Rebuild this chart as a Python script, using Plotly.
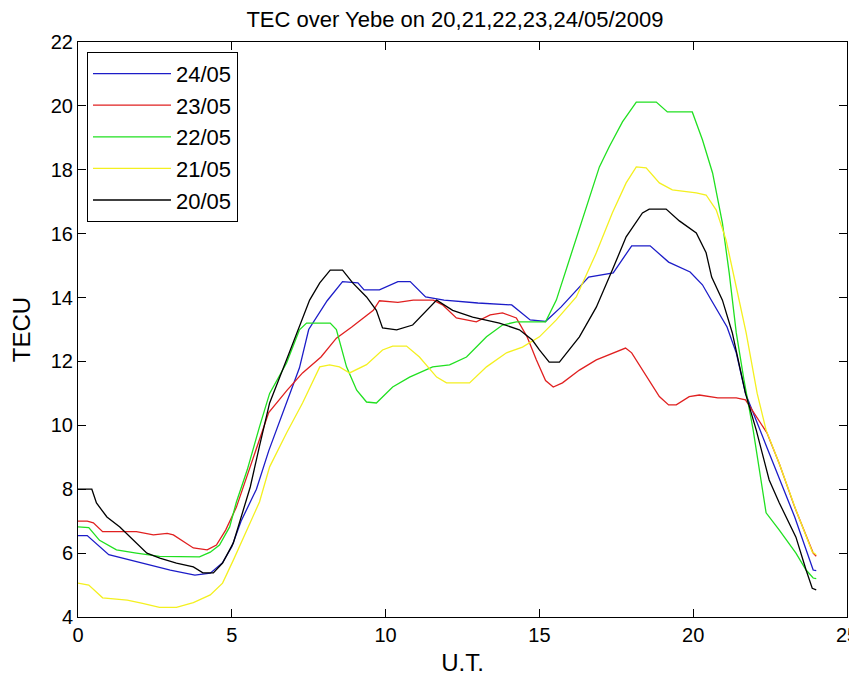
import plotly.graph_objects as go

# ---- data ----
labels = ["24/05", "23/05", "22/05", "21/05", "20/05"]
colors = ["#1c1cc8", "#e02020", "#20e020", "#f4f020", "#000000"]

x_24 = [0, 0.3, 1, 2, 3, 3.8, 4.3, 4.7, 5, 5.3, 5.8, 6.2, 6.8, 7.2, 7.5, 8.1, 8.6, 9.1, 9.3, 9.8,
        10.4, 10.8, 11.3, 11.9, 13.0, 13.7, 14.1, 14.7, 15.2, 15.7, 16.4, 16.6, 17.4, 17.7, 18.0,
        18.6, 19.2, 19.9, 20.3, 20.6, 21.1, 21.4, 21.7, 22.4, 22.9, 23.3, 23.9, 24]
y_24 = [6.55, 6.55, 5.95, 5.7, 5.47, 5.31, 5.37, 5.7, 6.2, 7.0, 8.0, 9.2, 10.8, 11.8, 13.0, 13.9,
        14.5, 14.46, 14.24, 14.24, 14.5, 14.5, 14.02, 13.92, 13.83, 13.8, 13.77, 13.3, 13.25, 13.7,
        14.45, 14.64, 14.77, 15.18, 15.62, 15.62, 15.11, 14.8, 14.4, 13.9, 13.08, 12.27, 11.0, 9.3,
        8.07, 7.13, 5.47, 5.45]

x_23 = [0, 0.3, 0.5, 0.8, 1.9, 2.45, 2.9, 3.1, 3.75, 4.2, 4.5, 4.8, 5.15, 5.6, 5.9, 6.2, 6.8, 7.3,
        7.9, 8.4, 8.9, 9.6, 9.8, 10.4, 10.9, 11.55, 11.85, 12.3, 12.95, 13.4, 13.8, 14.25, 14.6,
        14.9, 15.2, 15.45, 15.75, 16.3, 16.85, 17.4, 17.8, 18.0, 18.5, 18.9, 19.2, 19.45, 19.87,
        20.2, 20.8, 21.4, 21.7, 22.4, 22.8, 23.3, 23.9, 24]
y_23 = [7.0, 7.0, 6.95, 6.67, 6.67, 6.57, 6.62, 6.57, 6.16, 6.1, 6.25, 6.72, 7.44, 8.7, 9.5, 10.4,
        11.1, 11.64, 12.14, 12.73, 13.08, 13.6, 13.9, 13.85, 13.92, 13.92, 13.77, 13.36, 13.24,
        13.46, 13.52, 13.36, 12.77, 12.05, 11.4, 11.2, 11.33, 11.73, 12.05, 12.27, 12.42, 12.27,
        11.51, 10.9, 10.64, 10.64, 10.9, 10.95, 10.86, 10.86, 10.8, 9.76, 8.8, 7.44, 6.0, 5.9]

x_22 = [0, 0.35, 0.7, 1.25, 1.9, 2.65, 3.95, 4.3, 4.6, 4.93, 5.15, 5.5, 5.9, 6.23, 6.78, 7.2, 7.43,
        8.2, 8.4, 8.73, 9.06, 9.38, 9.7, 10.23, 10.78, 11.53, 12.08, 12.63, 13.28, 13.8, 14.25,
        15.2, 15.55, 15.97, 16.3, 16.62, 16.95, 17.27, 17.7, 18.15, 18.8, 19.16, 19.65, 19.97,
        20.3, 20.63, 20.95, 21.17, 21.4, 21.65, 21.95, 22.15, 22.37, 22.8, 23.34, 23.67, 23.9, 24]
y_22 = [6.82, 6.8, 6.4, 6.1, 6.0, 5.9, 5.88, 6.03, 6.25, 6.82, 7.6, 8.6, 9.95, 11.0, 11.95, 12.99,
        13.2, 13.2, 13.0, 11.83, 11.1, 10.73, 10.7, 11.2, 11.51, 11.83, 11.89, 12.14, 12.77, 13.14,
        13.24, 13.24, 13.92, 15.18, 16.12, 17.06, 18.09, 18.72, 19.5, 20.12, 20.12, 19.81, 19.81,
        19.81, 18.94, 17.9, 16.33, 14.77, 12.9, 11.42, 9.85, 8.6, 7.26, 6.72, 6.0, 5.47, 5.22, 5.2]

x_21 = [0, 0.35, 0.8, 1.6, 2.1, 2.65, 3.2, 3.75, 4.3, 4.7, 5.05, 5.5, 5.9, 6.23, 6.78, 7.3, 7.86,
        8.18, 8.5, 8.83, 9.38, 9.9, 10.23, 10.68, 11.1, 11.66, 11.98, 12.73, 13.28, 13.93, 14.45,
        15.0, 15.55, 16.2, 16.85, 17.37, 17.82, 18.15, 18.47, 18.9, 19.32, 20.1, 20.42, 20.75,
        21.07, 21.4, 21.72, 22.08, 22.37, 22.8, 23.34, 23.87, 24]
y_21 = [5.06, 5.0, 4.6, 4.53, 4.43, 4.3, 4.3, 4.45, 4.69, 5.06, 5.78, 6.72, 7.6, 8.7, 9.76, 10.7,
        11.83, 11.89, 11.83, 11.64, 11.9, 12.36, 12.48, 12.48, 12.14, 11.51, 11.33, 11.33, 11.83,
        12.27, 12.45, 12.77, 13.3, 14.02, 15.4, 16.65, 17.59, 18.09, 18.06, 17.59, 17.37, 17.28,
        17.21, 16.74, 15.8, 14.33, 12.9, 11.0, 9.85, 8.8, 7.35, 6.04, 5.95]

x_20 = [0, 0.45, 0.6, 0.94, 1.36, 1.8, 2.24, 2.66, 3.2, 3.75, 4.06, 4.4, 4.7, 5.05, 5.27, 5.6, 5.9,
        6.23, 6.78, 7.2, 7.53, 7.86, 8.2, 8.6, 8.93, 9.38, 9.7, 9.9, 10.36, 10.88, 11.33, 11.66,
        12.18, 12.83, 13.7, 14.35, 14.77, 15.0, 15.32, 15.65, 16.3, 16.85, 17.37, 17.82, 18.35,
        18.57, 19.12, 19.55, 20.1, 20.42, 20.6, 20.95, 21.27, 21.7, 22.05, 22.47, 22.8, 23.34,
        23.67, 23.87, 24]
y_20 = [8.0, 8.0, 7.57, 7.13, 6.82, 6.41, 6.0, 5.84, 5.69, 5.57, 5.38, 5.38, 5.69, 6.32, 7.04,
        8.07, 9.35, 10.7, 12.05, 13.08, 13.92, 14.46, 14.86, 14.86, 14.46, 14.02, 13.6, 13.05,
        12.99, 13.14, 13.6, 13.92, 13.6, 13.39, 13.2, 12.99, 12.67, 12.36, 11.98, 11.98, 12.77,
        13.7, 14.86, 15.9, 16.65, 16.77, 16.77, 16.4, 16.02, 15.4, 14.64, 13.92, 12.9, 11.0, 9.85,
        8.29, 7.57, 6.5, 5.47, 4.9, 4.85]

xs = [x_24, x_23, x_22, x_21, x_20]
ys = [y_24, y_23, y_22, y_21, y_20]

x_ticks = [0, 5, 10, 15, 20, 25]
y_ticks = [4, 6, 8, 10, 12, 14, 16, 18, 20, 22]

FONT = "Liberation Sans, Arial, sans-serif"

fig = go.Figure()
for lab, col, xv, yv in zip(labels, colors, xs, ys):
    fig.add_trace(go.Scatter(x=xv, y=yv, mode="lines", name=lab, legendgroup=lab,
                             line=dict(color=col, width=1.3)))

axis_common = dict(showline=True, linecolor="black", linewidth=1, mirror="ticks",
                   ticks="inside", ticklen=8, tickcolor="black", showgrid=False,
                   zeroline=False, automargin=False, ticklabeloverflow="allow",
                   tickfont=dict(size=20, color="black", family=FONT))

# The page body adds an 8px offset, so the figure is sized to end at the window edge.
fig.update_layout(
    width=849, height=668,
    paper_bgcolor="white", plot_bgcolor="white",
    margin=dict(l=70, r=10, t=34, b=59),
    font=dict(family=FONT, color="black", size=20),
    title=dict(text="TEC over Yebe on 20,21,22,23,24/05/2009", x=0.5265, xanchor="center",
               y=0.995, yanchor="top", yref="container", automargin=False,
               font=dict(size=22, family=FONT, color="black")),
    xaxis=dict(range=[0, 25], tickvals=x_ticks, title=dict(text="U.T.", standoff=10), **axis_common),
    yaxis=dict(range=[4, 22], tickvals=y_ticks, title=dict(text="TECU", standoff=23), **axis_common),
    legend=dict(x=0.0117, y=0.983, xanchor="left", yanchor="top", bgcolor="white",
                bordercolor="black", borderwidth=1, traceorder="grouped", tracegroupgap=0,
                itemwidth=78, font=dict(size=22, family=FONT, color="black")),
    showlegend=True,
)

fig.write_html("out.html")
